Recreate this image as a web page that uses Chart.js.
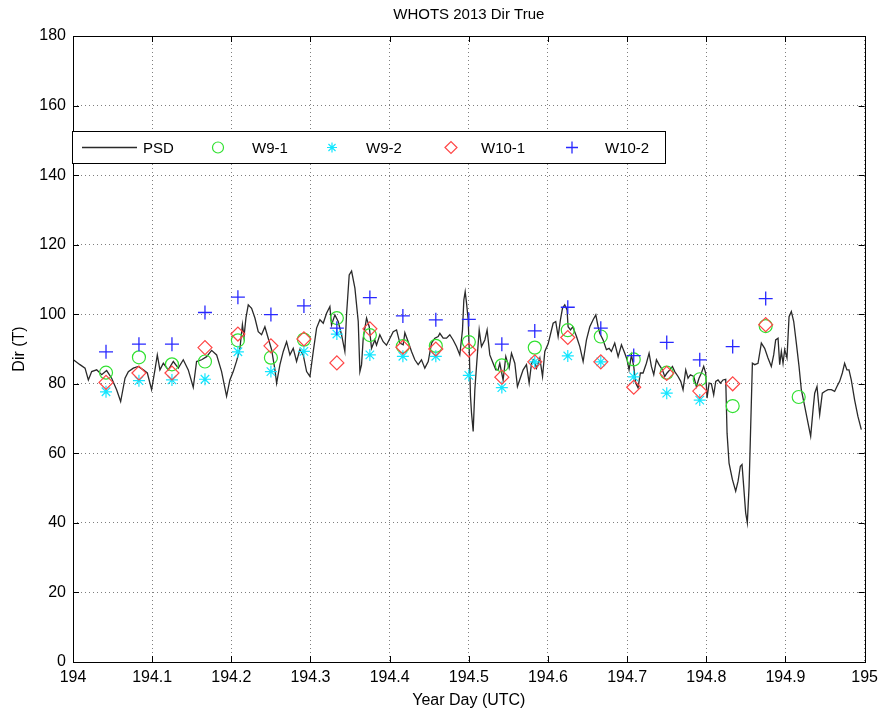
<!DOCTYPE html>
<html>
<head>
<meta charset="utf-8">
<title>WHOTS 2013 Dir True</title>
<script src="https://cdn.jsdelivr.net/npm/chart.js@4/dist/chart.umd.min.js"></script>
<style>
  html, body { margin: 0; padding: 0; background: white; }
  #wrap { width: 884px; height: 714px; position: relative; }
</style>
</head>
<body>
<div id="wrap"><canvas id="c"></canvas></div>
<script>
// WHOTS 2013 wind direction, year day 194 (PSD vs WHOTS buoy sensors)

// PSD record
const psdDay = [
  194.0000, 194.0088, 194.0152, 194.0194, 194.0236, 194.0299, 194.0362, 194.0425, 194.0488, 194.0551,
  194.0602, 194.0657, 194.0699, 194.0762, 194.0825, 194.0888, 194.0939, 194.0993, 194.1035, 194.1065,
  194.1098, 194.1141, 194.1204, 194.1267, 194.1330, 194.1393, 194.1456, 194.1519, 194.1561, 194.1625,
  194.1688, 194.1751, 194.1814, 194.1877, 194.1940, 194.1982, 194.2024, 194.2066, 194.2108, 194.2140,
  194.2160, 194.2185, 194.2214, 194.2256, 194.2298, 194.2340, 194.2382, 194.2424, 194.2466, 194.2509,
  194.2551, 194.2572, 194.2614, 194.2656, 194.2698, 194.2740, 194.2782, 194.2824, 194.2866, 194.2908,
  194.2951, 194.2993, 194.3035, 194.3077, 194.3119, 194.3161, 194.3203, 194.3245, 194.3266, 194.3308,
  194.3350, 194.3392, 194.3434, 194.3455, 194.3489, 194.3519, 194.3561, 194.3603, 194.3624, 194.3645,
  194.3666, 194.3708, 194.3742, 194.3771, 194.3813, 194.3834, 194.3876, 194.3918, 194.3960, 194.4002,
  194.4045, 194.4087, 194.4129, 194.4171, 194.4192, 194.4234, 194.4276, 194.4318, 194.4360, 194.4402,
  194.4444, 194.4487, 194.4529, 194.4571, 194.4613, 194.4634, 194.4676, 194.4718, 194.4760, 194.4802,
  194.4844, 194.4886, 194.4920, 194.4937, 194.4954, 194.4971, 194.4992, 194.5004, 194.5021, 194.5034,
  194.5055, 194.5076, 194.5097, 194.5131, 194.5160, 194.5202, 194.5231, 194.5265, 194.5307, 194.5341,
  194.5370, 194.5391, 194.5433, 194.5467, 194.5509, 194.5539, 194.5581, 194.5614, 194.5657, 194.5686,
  194.5728, 194.5762, 194.5792, 194.5821, 194.5855, 194.5897, 194.5931, 194.5960, 194.6002, 194.6065,
  194.6098, 194.6128, 194.6157, 194.6183, 194.6212, 194.6241, 194.6254, 194.6284, 194.6313, 194.6360,
  194.6402, 194.6444, 194.6486, 194.6528, 194.6570, 194.6604, 194.6633, 194.6654, 194.6696, 194.6738,
  194.6772, 194.6801, 194.6843, 194.6886, 194.6928, 194.6970, 194.6999, 194.7024, 194.7054, 194.7083,
  194.7108, 194.7138, 194.7167, 194.7201, 194.7243, 194.7277, 194.7306, 194.7336, 194.7370, 194.7403,
  194.7445, 194.7475, 194.7504, 194.7538, 194.7572, 194.7601, 194.7643, 194.7677, 194.7706, 194.7740,
  194.7769, 194.7799, 194.7841, 194.7875, 194.7908, 194.7938, 194.7967, 194.7992, 194.8009, 194.8035,
  194.8064, 194.8093, 194.8119, 194.8148, 194.8178, 194.8211, 194.8245, 194.8262, 194.8287, 194.8329,
  194.8371, 194.8401, 194.8430, 194.8451, 194.8472, 194.8497, 194.8518, 194.8540, 194.8556, 194.8582,
  194.8611, 194.8653, 194.8695, 194.8737, 194.8779, 194.8821, 194.8851, 194.8876, 194.8906, 194.8927,
  194.8948, 194.8969, 194.8990, 194.9019, 194.9045, 194.9074, 194.9104, 194.9137, 194.9171, 194.9200,
  194.9243, 194.9285, 194.9318, 194.9348, 194.9369, 194.9398, 194.9432, 194.9465, 194.9495, 194.9537,
  194.9579, 194.9621, 194.9650, 194.9684, 194.9718, 194.9747, 194.9776, 194.9802, 194.9831, 194.9873,
  194.9915, 194.9958
];
const psdDir = [
  87.0, 85.5, 84.5, 81.1, 83.5, 84.0, 82.6, 83.8, 81.6, 78.3,
  74.9, 81.6, 83.5, 84.5, 85.0, 84.0, 83.1, 78.3, 84.0, 88.3,
  84.0, 85.9, 84.0, 86.4, 84.5, 86.9, 84.0, 79.0, 86.4, 86.9,
  87.8, 89.6, 88.3, 83.5, 76.4, 81.1, 83.5, 86.5, 90.0, 97.0,
  93.5, 99.0, 102.7, 101.7, 98.9, 95.0, 94.1, 96.4, 93.1, 89.8,
  84.0, 80.2, 85.5, 89.3, 92.1, 88.3, 90.2, 86.4, 89.8, 88.3,
  83.5, 82.1, 89.3, 96.0, 98.4, 97.4, 100.3, 102.2, 96.9, 99.8,
  97.9, 94.1, 89.3, 99.8, 111.3, 112.4, 107.5, 97.9, 83.5, 85.5,
  93.1, 98.9, 96.4, 90.2, 92.6, 91.1, 94.1, 92.1, 91.1, 93.0,
  95.0, 95.5, 91.7, 91.2, 94.7, 92.1, 89.3, 86.9, 85.5, 86.9,
  84.5, 86.4, 91.7, 93.1, 93.6, 94.5, 93.1, 93.1, 94.1, 92.6,
  90.7, 88.3, 95.5, 104.1, 106.5, 103.2, 98.4, 90.7, 76.4, 71.6,
  66.3, 78.3, 85.0, 95.5, 90.7, 92.6, 95.5, 88.3, 85.9, 84.0,
  84.0, 85.9, 81.1, 87.8, 84.5, 88.8, 85.9, 79.2, 82.1, 84.0,
  85.5, 80.2, 85.9, 86.9, 84.5, 87.4, 82.1, 89.3, 91.5, 97.4,
  97.9, 93.6, 98.4, 101.7, 102.7, 101.2, 96.4, 95.5, 96.4, 93.6,
  90.7, 86.4, 92.6, 96.4, 98.4, 99.8, 96.4, 94.5, 92.6, 89.8,
  90.2, 89.3, 91.7, 87.8, 91.2, 88.8, 86.9, 84.0, 88.3, 85.0,
  80.2, 78.8, 83.1, 83.1, 85.9, 88.8, 85.0, 82.6, 86.9, 85.5,
  84.0, 82.1, 83.1, 84.0, 85.0, 83.5, 82.1, 80.7, 78.3, 84.0,
  81.6, 82.6, 82.1, 79.2, 81.6, 83.1, 85.0, 83.1, 75.9, 80.2,
  80.0, 76.8, 80.7, 81.1, 80.2, 81.1, 81.3, 65.8, 57.2, 52.5,
  49.1, 52.0, 56.3, 56.8, 50.5, 42.9, 40.0, 50.5, 63.9, 85.9,
  85.5, 85.9, 91.7, 90.2, 87.4, 85.0, 88.3, 92.6, 93.1, 85.5,
  89.3, 85.9, 89.8, 87.4, 99.3, 100.8, 97.9, 91.7, 85.0, 78.3,
  73.5, 68.7, 64.9, 72.5, 77.3, 79.2, 71.1, 77.3, 77.8, 78.3,
  78.3, 77.8, 79.2, 80.7, 83.1, 85.9, 84.0, 84.0, 81.1, 75.4,
  70.6, 66.8
];

// hourly buoy samples
const hourDay = [
  194.0417, 194.0833, 194.1250, 194.1667, 194.2083, 194.2500, 194.2917, 194.3333,
  194.3750, 194.4167, 194.4583, 194.5000, 194.5417, 194.5833, 194.6250, 194.6667,
  194.7083, 194.7500, 194.7917, 194.8333, 194.8750, 194.9167
];
const w91Dir  = [83.2, 87.6, 85.6, 86.4, 92.5, 87.5, 92.7, 98.9, 94.0, 90.8, 90.9, 92.0,
                 85.3, 90.4, 95.4, 93.6, 87.0, 83.2, 81.3, 73.6, 96.6, 76.2];
const w92Dir  = [77.7, 80.9, 81.1, 81.3, 89.2, 83.5, 89.3, 94.3, 88.3, 87.9, 87.9, 82.4,
                 78.9, 86.3, 88.0, 86.3, 82.0, 77.3, 75.3];
const w101Dir = [80.4, 83.1, 83.1, 90.4, 94.3, 90.9, 92.9, 86.0, 95.8, 90.5, 90.0, 89.7,
                 81.9, 86.3, 93.3, 86.3, 79.0, 83.0, 77.9, 80.0, 97.0];
const w102Dir = [89.2, 91.4, 91.4, 100.5, 104.9, 99.9, 102.4, 96.0, 104.8, 99.5, 98.4, 98.5,
                 91.4, 95.2, 102.0, 96.0, 88.1, 91.9, 86.9, 90.7, 104.5];

const xTicksMin = 194, xTicksMax = 195, xStep = 0.1;
const yTicksMin = 0, yTicksMax = 180, yStep = 20;
const chartTitle = 'WHOTS 2013 Dir True';

const FONT = '"Liberation Sans", Arial, Helvetica, sans-serif';

function pts(xs, ys) {
  return ys.map((y, i) => ({ x: xs[i], y: y }));
}

const series = [
  { label: 'PSD', data: pts(psdDay, psdDir), type: 'line', showLine: true,
    borderColor: '#2a2a2a', borderWidth: 1.3, pointRadius: 0, order: 10, tension: 0 },
  { label: 'W9-1', data: pts(hourDay, w91Dir), pointStyle: 'circle', pointRadius: 6.5,
    pointBorderColor: 'rgb(50,225,50)', pointBackgroundColor: 'rgba(0,0,0,0)', pointBorderWidth: 1.2, order: 4 },
  { label: 'W9-2', data: pts(hourDay, w92Dir), pointStyle: 'star', pointRadius: 6,
    pointBorderColor: 'rgb(20,230,255)', pointBackgroundColor: 'rgba(0,0,0,0)', pointBorderWidth: 1.2, order: 3 },
  { label: 'W10-1', data: pts(hourDay, w101Dir), pointStyle: 'rectRot', pointRadius: 7,
    pointBorderColor: 'rgb(255,70,70)', pointBackgroundColor: 'rgba(0,0,0,0)', pointBorderWidth: 1.2, order: 2 },
  { label: 'W10-2', data: pts(hourDay, w102Dir), pointStyle: 'cross', pointRadius: 7,
    pointBorderColor: 'rgb(40,40,255)', pointBackgroundColor: 'rgba(0,0,0,0)', pointBorderWidth: 1.3, order: 1 }
];

// frame with inward tick marks, title over the plot, MATLAB-style legend box
const framePlugin = {
  id: 'frame',
  afterDraw(chart) {
    const { ctx, chartArea: a, scales } = chart;
    ctx.save();
    ctx.strokeStyle = '#000';
    ctx.lineWidth = 1;
    ctx.strokeRect(Math.round(a.left) + 0.5, Math.round(a.top) + 0.5,
                   Math.round(a.right - a.left), Math.round(a.bottom - a.top));
    const tl = 6;
    ctx.beginPath();
    scales.x.ticks.forEach(t => {
      const px = Math.round(scales.x.getPixelForValue(t.value)) + 0.5;
      ctx.moveTo(px, a.bottom); ctx.lineTo(px, a.bottom - tl);
      ctx.moveTo(px, a.top); ctx.lineTo(px, a.top + tl);
    });
    scales.y.ticks.forEach(t => {
      const py = Math.round(scales.y.getPixelForValue(t.value)) + 0.5;
      ctx.moveTo(a.left, py); ctx.lineTo(a.left + tl, py);
      ctx.moveTo(a.right, py); ctx.lineTo(a.right - tl, py);
    });
    ctx.stroke();

    // title, centred on the axes
    ctx.fillStyle = '#000';
    ctx.font = '15px ' + FONT;
    ctx.textAlign = 'center';
    ctx.textBaseline = 'middle';
    ctx.fillText(chartTitle, (a.left + a.right) / 2, 15);

    // legend
    const bx = 72.5, by = 131.5, bw = 593, bh = 32;
    ctx.fillStyle = '#fff';
    ctx.fillRect(bx, by, bw, bh);
    ctx.strokeRect(bx, by, bw, bh);
    const cy = by + bh / 2;
    const entries = [
      { sym: 82, text: 143 },
      { sym: 218, text: 252 },
      { sym: 332, text: 366 },
      { sym: 451, text: 481 },
      { sym: 572, text: 605 }
    ];
    ctx.font = '15px ' + FONT;
    ctx.textAlign = 'left';
    series.forEach((ds, i) => {
      const e = entries[i];
      if (ds.pointRadius === 0) {
        ctx.strokeStyle = ds.borderColor;
        ctx.lineWidth = ds.borderWidth;
        ctx.beginPath();
        ctx.moveTo(e.sym, cy); ctx.lineTo(e.sym + 55, cy);
        ctx.stroke();
      } else {
        ctx.strokeStyle = ds.pointBorderColor;
        ctx.fillStyle = 'rgba(0,0,0,0)';
        ctx.lineWidth = ds.pointBorderWidth;
        Chart.helpers.drawPoint(ctx, {
          pointStyle: ds.pointStyle, radius: ds.pointRadius - 1, rotation: 0,
          borderWidth: ds.pointBorderWidth
        }, e.sym, cy);
      }
      ctx.fillStyle = '#000';
      ctx.fillText(ds.label, e.text, cy + 1);
    });
    ctx.restore();
  }
};

const gridStyle = { color: 'rgba(0,0,0,0.5)', lineWidth: 1, drawTicks: false };

new Chart(document.getElementById('c'), {
  type: 'scatter',
  data: { datasets: series },
  plugins: [framePlugin],
  options: {
    responsive: true,
    maintainAspectRatio: false,
    animation: false,
    layout: { padding: { left: 0, right: 19, top: 36, bottom: 0 } },
    plugins: {
      legend: { display: false },
      tooltip: { enabled: false },
      title: { display: false }
    },
    scales: {
      x: {
        type: 'linear',
        min: xTicksMin, max: xTicksMax,
        grid: gridStyle,
        border: { display: false, dash: [1, 3] },
        ticks: {
          stepSize: xStep, padding: 6, color: '#000', maxRotation: 0, autoSkip: false,
          font: { family: FONT, size: 16 },
          callback: v => String(Math.round(v * 10) / 10)
        },
        title: {
          display: true, text: 'Year Day (UTC)', color: '#000',
          font: { family: FONT, size: 16, lineHeight: 1.2 },
          padding: { top: 0, bottom: 4 }
        },
        afterFit: s => { s.height = 52; }
      },
      y: {
        min: yTicksMin, max: yTicksMax,
        grid: gridStyle,
        border: { display: false, dash: [1, 3] },
        ticks: {
          stepSize: yStep, padding: 7, color: '#000',
          font: { family: FONT, size: 16 }
        },
        title: {
          display: true, text: 'Dir (T)', color: '#000',
          font: { family: FONT, size: 16, lineHeight: 1.2 },
          padding: { top: 10, bottom: 0 }
        },
        afterFit: s => { s.width = 73; }
      }
    }
  }
});
</script>
</body>
</html>
